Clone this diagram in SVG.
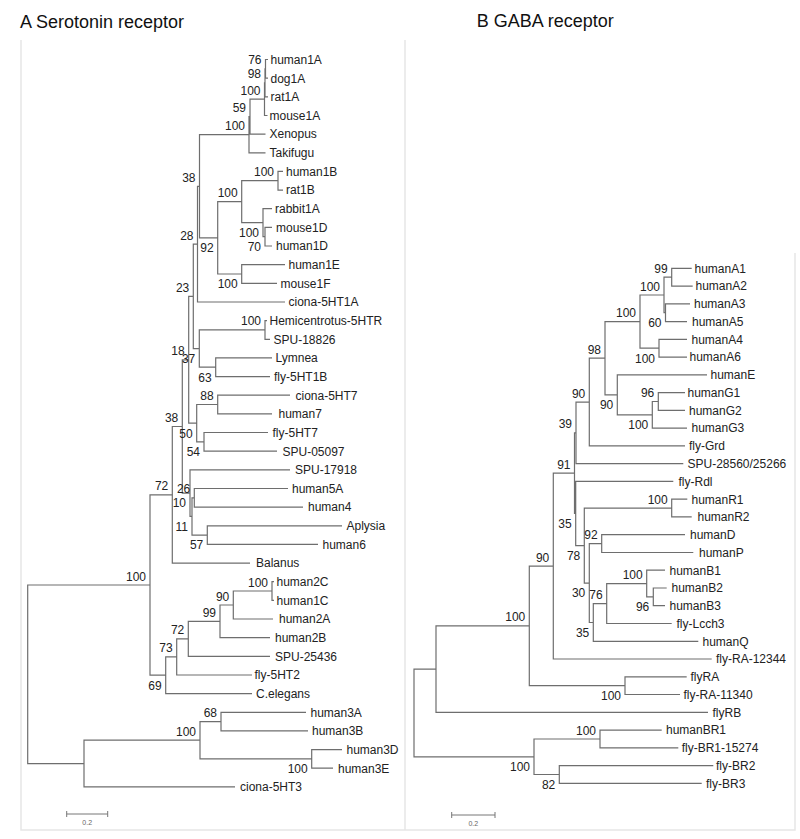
<svg xmlns="http://www.w3.org/2000/svg" width="800" height="839" viewBox="0 0 800 839">
<style>
.bg{fill:#fff}
.frame{fill:none;stroke:#e6e6e6;stroke-width:1.5}
.br{fill:none;stroke:#6e6e6e;stroke-width:1.2}
.lf{font-family:"Liberation Sans",Arial,sans-serif;font-size:12px;fill:#222}
.bs{font-family:"Liberation Sans",Arial,sans-serif;font-size:12px;fill:#222;text-anchor:end}
.title{font-family:"Liberation Sans",Arial,sans-serif;font-size:18px;fill:#111}
.sc{fill:none;stroke:#777;stroke-width:1}
.sct{font-family:"Liberation Sans",Arial,sans-serif;font-size:7px;fill:#666;text-anchor:middle}
</style>
<rect class="bg" x="0" y="0" width="800" height="839"/>
<g id="frames">
<path class="frame" d="M21 40V830H795V253M405 40V830"/>
</g>
<g id="titles">
<text class="title" x="20" y="28">A Serotonin receptor</text>
<text class="title" x="476.7" y="27">B GABA receptor</text>
</g>
<g id="connectors">
<path class="br" d="M265.5 68.8V59.5H268M265.5 68.8V78.2H268M265 82.8V68.8H265.5M265 82.8V96.8H268M264.5 99.1V82.8H265M264.5 99.1V115.5H267.5M250 116.6V99.1H264.5M250 116.6V134.1H265.5M249 134.7V116.6H250M249 134.7V152.8H265.5"/>
<path class="br" d="M278 180.7V171.4H283M278 180.7V190.1H283M265 236.7V227.4H272M265 236.7V246H272M263 222.7V208.7H272M263 222.7V236.7H265M241.7 201.7V180.7H278M241.7 201.7V222.7H263M241.7 274V264.7H285M241.7 274V283.3H277M217.7 237.8V201.7H241.7M217.7 237.8V274H241.7M199.5 186.3V134.7H249M199.5 186.3V237.8H217.7M197.5 244.1V186.3H199.5M197.5 244.1V302H285"/>
<path class="br" d="M265 329.9V320.6H267M265 329.9V339.3H270M215.7 367.2V357.9H272M215.7 367.2V376.6H270M199.3 348.6V329.9H265M199.3 348.6V367.2H215.7M193.3 296.4V244.1H197.5M193.3 296.4V348.6H199.3M217.7 404.5V395.2H290M217.7 404.5V413.9H272M204 441.8V432.5H268M204 441.8V451.2H277M196.7 423.2V404.5H217.7M196.7 423.2V441.8H204M188.7 359.8V296.4H193.3M188.7 359.8V423.2H196.7"/>
<path class="br" d="M194.3 497.8V488.5H288M194.3 497.8V507.1H303M207.3 535.1V525.8H342M207.3 535.1V544.4H318M192 516.4V497.8H194.3M192 516.4V535.1H207.3M190 493.1V469.8H290M190 493.1V516.4H192M182.3 426.5V359.8H188.7M182.3 426.5V493.1H190M172.3 494.8V426.5H182.3M172.3 494.8V563.1H250"/>
<path class="br" d="M272 591V581.7H274M272 591V600.4H274M233.3 605V591H272M233.3 605V619H273M220 621.3V605H233.3M220 621.3V637.7H270M188.3 638.8V621.3H220M188.3 638.8V656.3H270M176.7 656.9V638.8H188.3M176.7 656.9V675H252M165.7 675.2V656.9H176.7M165.7 675.2V693.6H252M150 585V494.8H172.3M150 585V675.2H165.7"/>
<path class="br" d="M221 721.6V712.3H306M221 721.6V730.9H308M311.7 758.9V749.6H342M311.7 758.9V768.2H333M200 740.2V721.6H221M200 740.2V758.9H311.7M84 763.6V740.2H200M84 763.6V786.9H235M27.7 674.3V585H150M27.7 674.3V763.6H84"/>
<path class="br" d="M671.7 277.2V268.3H691.7M671.7 277.2V286.1H692.7M665.5 312.7V303.8H690M665.5 312.7V321.6H687M664 295V277.2H671.7M664 295V312.7H665.5M659 348.2V339.3H687M659 348.2V357.1H687M640 321.6V295H664M640 321.6V348.2H659"/>
<path class="br" d="M658.3 401.5V392.6H685M658.3 401.5V410.4H685M652.3 414.8V401.5H658.3M652.3 414.8V428.1H687M617.3 394.9V374.9H707M617.3 394.9V414.8H652.3M605 358.2V321.6H640M605 358.2V394.9H617.3M589.3 402.1V358.2H605M589.3 402.1V445.9H685M576 432.9V402.1H589.3M576 432.9V463.7H683.3"/>
<path class="br" d="M671.7 508.1V499.2H687.3M671.7 508.1V516.9H691.7M601.7 543.6V534.7H685M601.7 543.6V552.5H693.3M653.3 596.9V588H666.7M653.3 596.9V605.7H665M646.7 583.6V570.2H665M646.7 583.6V596.9H653.3M606.7 603.6V583.6H646.7M606.7 603.6V623.5H671.7M593.3 622.5V603.6H606.7M593.3 622.5V641.3H698.3M589.3 583.1V543.6H601.7M589.3 583.1V622.5H593.3M584.3 545.6V508.1H671.7M584.3 545.6V583.1H589.3M575.7 513.5V481.4H673.3M575.7 513.5V545.6H584.3M574.5 473.2V432.9H576M574.5 473.2V513.5H575.7"/>
<path class="br" d="M553.3 566.1V473.2H574.5M553.3 566.1V659H711.7M625 685.7V676.8H686.7M625 685.7V694.5H680M529.3 625.9V566.1H553.3M529.3 625.9V685.7H625M436 669.1V625.9H529.3M436 669.1V712.3H708M600 739V730.1H661.7M600 739V747.8H678.3M559.3 774.5V765.6H713.3M559.3 774.5V783.3H701.7M534 756.8V739H600M534 756.8V774.5H559.3M414 712.9V669.1H436M414 712.9V756.8H534"/>
</g>
<g id="scale-bars">
<path class="sc" d="M66.7 814H107.7M66.7 811V817M107.7 811V817"/>
<text class="sct" x="87.2" y="825">0.2</text>
<path class="sc" d="M451.7 815H495M451.7 812V818M495 812V818"/>
<text class="sct" x="473.3" y="826">0.2</text>
</g>
<g id="L-human1A"><text class="lf" x="270.5" y="63.8">human1A</text></g>
<g id="L-dog1A"><text class="lf" x="270.5" y="82.5">dog1A</text></g>
<g id="L-rat1A"><text class="lf" x="270.5" y="101.1">rat1A</text></g>
<g id="L-mouse1A"><text class="lf" x="269.5" y="119.8">mouse1A</text></g>
<g id="L-Xenopus"><text class="lf" x="269.5" y="138.4">Xenopus</text></g>
<g id="L-Takifugu"><text class="lf" x="269.5" y="157.1">Takifugu</text></g>
<g id="L-human1B"><text class="lf" x="286" y="175.7">human1B</text></g>
<g id="L-rat1B"><text class="lf" x="286" y="194.4">rat1B</text></g>
<g id="L-rabbit1A"><text class="lf" x="275" y="213">rabbit1A</text></g>
<g id="L-mouse1D"><text class="lf" x="276" y="231.7">mouse1D</text></g>
<g id="L-human1D"><text class="lf" x="276" y="250.3">human1D</text></g>
<g id="L-human1E"><text class="lf" x="288.5" y="269">human1E</text></g>
<g id="L-mouse1F"><text class="lf" x="280.5" y="287.6">mouse1F</text></g>
<g id="L-ciona-5HT1A"><text class="lf" x="288.5" y="306.3">ciona-5HT1A</text></g>
<g id="L-Hemicentrotus-5HTR"><text class="lf" x="269.5" y="324.9">Hemicentrotus-5HTR</text></g>
<g id="L-SPU-18826"><text class="lf" x="273.5" y="343.6">SPU-18826</text></g>
<g id="L-Lymnea"><text class="lf" x="275.5" y="362.2">Lymnea</text></g>
<g id="L-fly-5HT1B"><text class="lf" x="274" y="380.9">fly-5HT1B</text></g>
<g id="L-ciona-5HT7"><text class="lf" x="295.5" y="399.5">ciona-5HT7</text></g>
<g id="L-human7"><text class="lf" x="278.5" y="418.2">human7</text></g>
<g id="L-fly-5HT7"><text class="lf" x="272.5" y="436.8">fly-5HT7</text></g>
<g id="L-SPU-05097"><text class="lf" x="282.5" y="455.5">SPU-05097</text></g>
<g id="L-SPU-17918"><text class="lf" x="295" y="474.1">SPU-17918</text></g>
<g id="L-human5A"><text class="lf" x="292" y="492.8">human5A</text></g>
<g id="L-human4"><text class="lf" x="308" y="511.4">human4</text></g>
<g id="L-Aplysia"><text class="lf" x="346.5" y="530.1">Aplysia</text></g>
<g id="L-human6"><text class="lf" x="322.5" y="548.7">human6</text></g>
<g id="L-Balanus"><text class="lf" x="256" y="567.4">Balanus</text></g>
<g id="L-human2C"><text class="lf" x="276.5" y="586">human2C</text></g>
<g id="L-human1C"><text class="lf" x="276.5" y="604.7">human1C</text></g>
<g id="L-human2A"><text class="lf" x="279" y="623.3">human2A</text></g>
<g id="L-human2B"><text class="lf" x="275" y="642">human2B</text></g>
<g id="L-SPU-25436"><text class="lf" x="275" y="660.6">SPU-25436</text></g>
<g id="L-fly-5HT2"><text class="lf" x="254.5" y="679.3">fly-5HT2</text></g>
<g id="L-Celegans"><text class="lf" x="256" y="697.9">C.elegans</text></g>
<g id="L-human3A"><text class="lf" x="310.5" y="716.6">human3A</text></g>
<g id="L-human3B"><text class="lf" x="312" y="735.2">human3B</text></g>
<g id="L-human3D"><text class="lf" x="346.5" y="753.9">human3D</text></g>
<g id="L-human3E"><text class="lf" x="338" y="772.5">human3E</text></g>
<g id="L-ciona-5HT3"><text class="lf" x="240" y="791.2">ciona-5HT3</text></g>
<g id="A-bootstrap">
<g id="An76"><text class="bs" x="261.5" y="64.3">76</text></g>
<g id="An98"><text class="bs" x="261" y="78.3">98</text></g>
<g id="An100a"><text class="bs" x="260.5" y="94.6">100</text></g>
<g id="An59"><text class="bs" x="246" y="112.1">59</text></g>
<g id="An100b"><text class="bs" x="245" y="130.2">100</text></g>
<g id="AnA"><text class="bs" x="274" y="176.2">100</text></g>
<g id="AnB"><text class="bs" x="261" y="251">70</text></g>
<g id="AnC"><text class="bs" x="259" y="237">100</text></g>
<g id="AnD"><text class="bs" x="237.7" y="197.2">100</text></g>
<g id="AnE"><text class="bs" x="237.7" y="288.3">100</text></g>
<g id="An92"><text class="bs" x="213.7" y="252.1">92</text></g>
<g id="An38a"><text class="bs" x="195.5" y="181.8">38</text></g>
<g id="An28"><text class="bs" x="193.5" y="239.6">28</text></g>
<g id="AnH"><text class="bs" x="261" y="325.4">100</text></g>
<g id="An63"><text class="bs" x="211.7" y="381.5">63</text></g>
<g id="An37"><text class="bs" x="195.3" y="362.9">37</text></g>
<g id="An23"><text class="bs" x="189.3" y="291.9">23</text></g>
<g id="An88"><text class="bs" x="213.7" y="400">88</text></g>
<g id="An54"><text class="bs" x="200" y="456.1">54</text></g>
<g id="An50"><text class="bs" x="192.7" y="437.5">50</text></g>
<g id="An18"><text class="bs" x="184.7" y="355.3">18</text></g>
<g id="An26"><text class="bs" x="190.3" y="493.3">26</text></g>
<g id="An57"><text class="bs" x="203.3" y="549.4">57</text></g>
<g id="An11"><text class="bs" x="188" y="530.7">11</text></g>
<g id="An10"><text class="bs" x="186" y="507.4">10</text></g>
<g id="An38b"><text class="bs" x="178.3" y="422">38</text></g>
<g id="An72"><text class="bs" x="168.3" y="490.3">72</text></g>
<g id="An100c"><text class="bs" x="268" y="586.5">100</text></g>
<g id="An90"><text class="bs" x="229.3" y="600.5">90</text></g>
<g id="An99"><text class="bs" x="216" y="616.8">99</text></g>
<g id="An72b"><text class="bs" x="184.3" y="634.3">72</text></g>
<g id="An73"><text class="bs" x="172.7" y="652.4">73</text></g>
<g id="An69"><text class="bs" x="161.7" y="689.5">69</text></g>
<g id="AnBig"><text class="bs" x="146" y="580.5">100</text></g>
<g id="An68"><text class="bs" x="217" y="717.1">68</text></g>
<g id="An3DE"><text class="bs" x="307.7" y="773.2">100</text></g>
<g id="An3"><text class="bs" x="196" y="735.7">100</text></g>
</g>
<g id="R-humanA1"><text class="lf" x="694.5" y="272.6">humanA1</text></g>
<g id="R-humanA2"><text class="lf" x="695.5" y="290.4">humanA2</text></g>
<g id="R-humanA3"><text class="lf" x="694" y="308.1">humanA3</text></g>
<g id="R-humanA5"><text class="lf" x="692" y="325.9">humanA5</text></g>
<g id="R-humanA4"><text class="lf" x="691.5" y="343.6">humanA4</text></g>
<g id="R-humanA6"><text class="lf" x="689.5" y="361.4">humanA6</text></g>
<g id="R-humanE"><text class="lf" x="710.5" y="379.2">humanE</text></g>
<g id="R-humanG1"><text class="lf" x="687.5" y="396.9">humanG1</text></g>
<g id="R-humanG2"><text class="lf" x="689" y="414.7">humanG2</text></g>
<g id="R-humanG3"><text class="lf" x="691.5" y="432.4">humanG3</text></g>
<g id="R-fly-Grd"><text class="lf" x="689" y="450.2">fly-Grd</text></g>
<g id="R-SPU-28560-25266"><text class="lf" x="687.5" y="468">SPU-28560/25266</text></g>
<g id="R-fly-Rdl"><text class="lf" x="678.5" y="485.7">fly-Rdl</text></g>
<g id="R-humanR1"><text class="lf" x="691.5" y="503.5">humanR1</text></g>
<g id="R-humanR2"><text class="lf" x="697.5" y="521.2">humanR2</text></g>
<g id="R-humanD"><text class="lf" x="690" y="539">humanD</text></g>
<g id="R-humanP"><text class="lf" x="699" y="556.8">humanP</text></g>
<g id="R-humanB1"><text class="lf" x="669.5" y="574.5">humanB1</text></g>
<g id="R-humanB2"><text class="lf" x="671.5" y="592.3">humanB2</text></g>
<g id="R-humanB3"><text class="lf" x="669.5" y="610">humanB3</text></g>
<g id="R-fly-Lcch3"><text class="lf" x="676.5" y="627.8">fly-Lcch3</text></g>
<g id="R-humanQ"><text class="lf" x="702.5" y="645.6">humanQ</text></g>
<g id="R-fly-RA-12344"><text class="lf" x="716" y="663.3">fly-RA-12344</text></g>
<g id="R-flyRA"><text class="lf" x="690.5" y="681.1">flyRA</text></g>
<g id="R-fly-RA-11340"><text class="lf" x="683.5" y="698.8">fly-RA-11340</text></g>
<g id="R-flyRB"><text class="lf" x="712.5" y="716.6">flyRB</text></g>
<g id="R-humanBR1"><text class="lf" x="666" y="734.4">humanBR1</text></g>
<g id="R-fly-BR1-15274"><text class="lf" x="681.7" y="752.1">fly-BR1-15274</text></g>
<g id="R-fly-BR2"><text class="lf" x="716" y="769.9">fly-BR2</text></g>
<g id="R-fly-BR3"><text class="lf" x="706" y="787.6">fly-BR3</text></g>
<g id="B-bootstrap">
<g id="Bm99"><text class="bs" x="667.7" y="272.7">99</text></g>
<g id="Bm60"><text class="bs" x="661.5" y="327">60</text></g>
<g id="Bm100a"><text class="bs" x="660" y="290.5">100</text></g>
<g id="Bm100b"><text class="bs" x="655" y="362.5">100</text></g>
<g id="Bm100c"><text class="bs" x="636" y="317.1">100</text></g>
<g id="Bm96"><text class="bs" x="654.3" y="397">96</text></g>
<g id="Bm100d"><text class="bs" x="648.3" y="429.1">100</text></g>
<g id="Bm90a"><text class="bs" x="613.3" y="409.2">90</text></g>
<g id="Bm98"><text class="bs" x="601" y="353.7">98</text></g>
<g id="Bm90b"><text class="bs" x="585.3" y="397.6">90</text></g>
<g id="Bm39"><text class="bs" x="572" y="428.4">39</text></g>
<g id="Bm100R"><text class="bs" x="667.7" y="503.6">100</text></g>
<g id="Bm92"><text class="bs" x="597.7" y="539.1">92</text></g>
<g id="Bm96b"><text class="bs" x="649.3" y="611.2">96</text></g>
<g id="Bm100B"><text class="bs" x="642.7" y="579.1">100</text></g>
<g id="Bm76"><text class="bs" x="602.7" y="599.1">76</text></g>
<g id="Bm35a"><text class="bs" x="589.3" y="636.8">35</text></g>
<g id="Bm30"><text class="bs" x="585.3" y="597.4">30</text></g>
<g id="Bm78"><text class="bs" x="580.3" y="559.9">78</text></g>
<g id="Bm35b"><text class="bs" x="571.7" y="527.8">35</text></g>
<g id="Bm91"><text class="bs" x="570.5" y="468.7">91</text></g>
<g id="Bm90c"><text class="bs" x="549.3" y="561.6">90</text></g>
<g id="Bm100RA"><text class="bs" x="621" y="700">100</text></g>
<g id="Bm100e"><text class="bs" x="525.3" y="621.4">100</text></g>
<g id="Bm100BR"><text class="bs" x="596" y="734.5">100</text></g>
<g id="Bm82"><text class="bs" x="555.3" y="788.8">82</text></g>
<g id="Bm534"><text class="bs" x="530" y="771.1">100</text></g>
</g>
</svg>
